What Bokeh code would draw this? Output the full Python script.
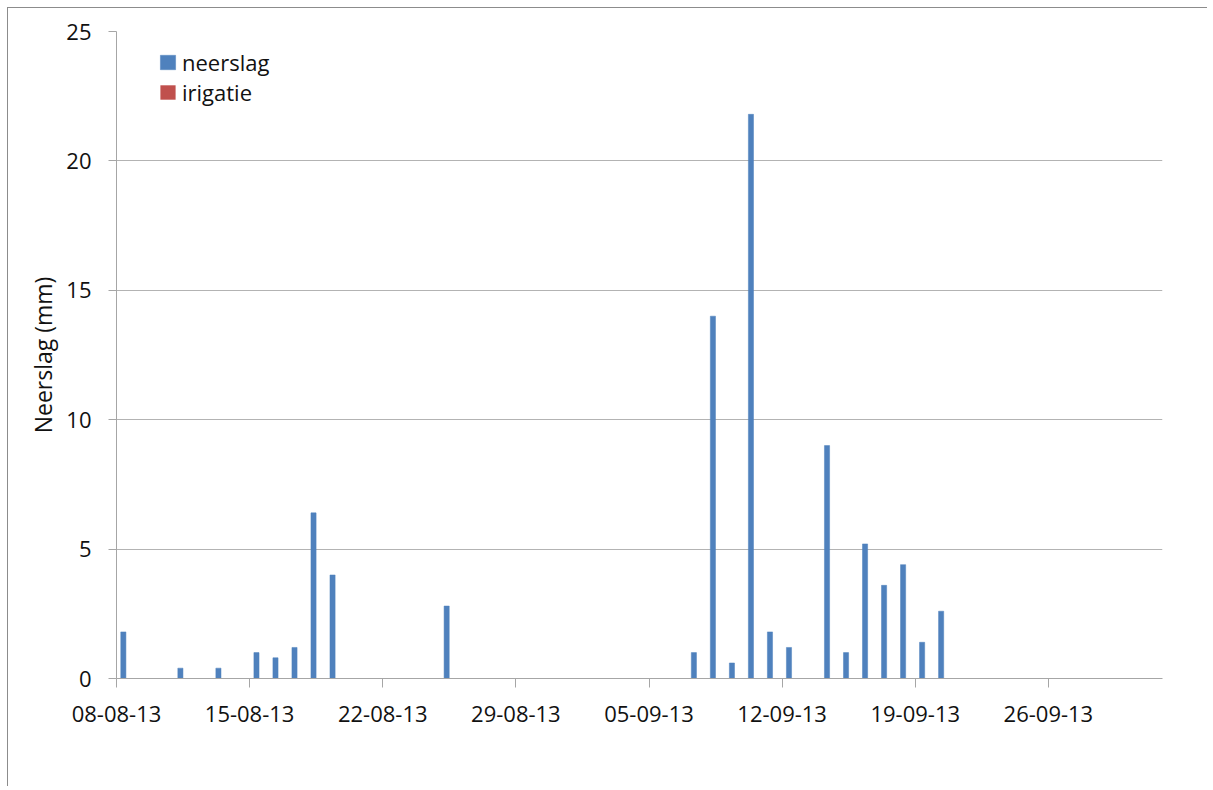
from datetime import datetime
from bokeh.plotting import figure
from bokeh.models import ColumnDataSource, Range1d, FixedTicker, DatetimeTickFormatter, Legend, LegendItem
from bokeh.transform import dodge
from bokeh.embed import file_html
from bokeh.resources import INLINE

# ---- data ----
neerslag_dates = ["2013-08-08", "2013-08-11", "2013-08-13", "2013-08-15", "2013-08-16",
                  "2013-08-17", "2013-08-18", "2013-08-19", "2013-08-25", "2013-09-07",
                  "2013-09-08", "2013-09-09", "2013-09-10", "2013-09-11", "2013-09-12",
                  "2013-09-14", "2013-09-15", "2013-09-16", "2013-09-17", "2013-09-18",
                  "2013-09-19", "2013-09-20"]
neerslag = [1.8, 0.4, 0.4, 1.0, 0.8, 1.2, 6.4, 4.0, 2.8, 1.0,
            14.0, 0.6, 21.8, 1.8, 1.2, 9.0, 1.0, 5.2, 3.6, 4.4, 1.4, 2.6]
irigatie_dates = ["2013-08-08"]
irigatie = [0.0]
tick_labels = ["08-08-13", "15-08-13", "22-08-13", "29-08-13",
               "05-09-13", "12-09-13", "19-09-13", "26-09-13"]
y_ticks = [0, 5, 10, 15, 20, 25]
x_start = "2013-08-08"
x_end = "2013-10-02"

DAY = 86400000.0
EPOCH = datetime(1970, 1, 1)


def to_ms(d):
    return (d - EPOCH).total_seconds() * 1000.0


def parse(s):
    return datetime.strptime(s, "%Y-%m-%d")


src_n = ColumnDataSource(dict(date=[to_ms(parse(d)) for d in neerslag_dates], val=neerslag))
src_i = ColumnDataSource(dict(date=[to_ms(parse(d)) for d in irigatie_dates], val=irigatie))

p = figure(width=1200, height=779, output_backend="svg", toolbar_location=None,
           x_axis_type="datetime",
           x_range=Range1d(to_ms(parse(x_start)), to_ms(parse(x_end))),
           y_range=Range1d(0, 25),
           min_border_left=108, min_border_top=23, min_border_right=46, min_border_bottom=109)
p.styles = {"border-top": "1px solid #8c8c8c", "border-left": "1px solid #8c8c8c",
            "margin-left": "7px", "margin-top": "7px"}
p.outline_line_color = None
p.background_fill_color = "white"
p.border_fill_color = "white"

BLUE = "#4F81BD"
RED = "#C0504D"
bw = 0.27 * DAY
off = 0.36 * DAY
r1 = p.vbar(x=dodge("date", off), top="val", width=bw, bottom=0, source=src_n,
            fill_color=BLUE, line_color=BLUE, line_width=0.5)
r2 = p.vbar(x=dodge("date", off), top="val", width=bw, bottom=0, source=src_i,
            fill_color=RED, line_color=None)

# axes
xt = [to_ms(datetime.strptime(t, "%d-%m-%y")) for t in tick_labels]
p.xaxis.ticker = FixedTicker(ticks=xt)
p.xaxis.formatter = DatetimeTickFormatter(days="%d-%m-%y", months="%d-%m-%y", hours="%d-%m-%y")
p.yaxis.ticker = FixedTicker(ticks=y_ticks)

AX = "#a6a6a6"
for ax in (p.xaxis[0], p.yaxis[0]):
    ax.axis_line_color = AX
    ax.major_tick_line_color = AX
    ax.minor_tick_line_color = None
    ax.major_tick_in = 0
    ax.major_label_text_font = "Open Sans"
    ax.major_label_text_font_size = "22px"
    ax.major_label_text_color = "#111111"
p.xaxis.major_tick_out = 9
p.yaxis.major_tick_out = 8
p.xaxis.major_label_standoff = 18
p.yaxis.major_label_standoff = 17

p.yaxis.axis_label = "Neerslag (mm)"
p.yaxis.axis_label_text_font = "Open Sans"
p.yaxis.axis_label_text_font_size = "23px"
p.yaxis.axis_label_text_font_style = "normal"
p.yaxis.axis_label_text_color = "#111111"
p.yaxis.axis_label_standoff = 4

p.xgrid.grid_line_color = None
p.ygrid.grid_line_color = "#b3b3b3"
p.ygrid.grid_line_width = 1

legend = Legend(items=[LegendItem(label="neerslag", renderers=[r1]),
                       LegendItem(label="irigatie", renderers=[r2])],
                location=(42, 571), border_line_color=None, background_fill_alpha=0,
                padding=0, margin=0, spacing=0, glyph_width=19, glyph_height=18,
                label_height=26, label_standoff=5,
                label_text_font="Open Sans", label_text_font_size="22px",
                label_text_color="#111111")
p.add_layout(legend)

open("out.html", "w").write(file_html(p, INLINE))
